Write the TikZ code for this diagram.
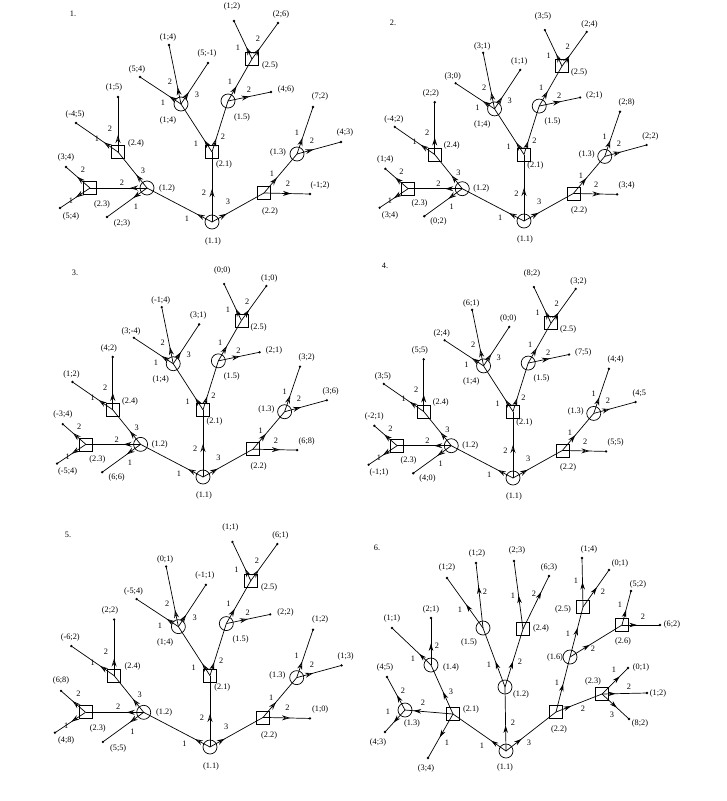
\documentclass[tikz,border=0pt]{standalone}
\usepackage{fontspec}
\setmainfont{Liberation Serif}
\usetikzlibrary{arrows.meta,decorations.markings}

\tikzset{
  pone/.style={circle,draw,minimum size=14pt,inner sep=0pt},
  ptwo/.style={rectangle,draw,minimum size=13pt,inner sep=0pt},
  leaf/.style={circle,fill,minimum size=2.6pt,inner sep=0pt},
  txt/.style={font=\fontsize{8.3}{9}\selectfont,inner sep=0pt},
  mv/.style={postaction={decorate},decoration={markings,
    mark=at position #1 with {\arrow{Stealth[open,length=8pt,width=5pt]}}}},
  mv/.default=17pt,
  mvf/.style={postaction={decorate},decoration={markings,
    mark=at position #1 with {\arrow{Stealth[length=7.5pt,width=4.5pt]}}}},
}

% tree of games 1-5: #1 prefix, #2 the 14 payoffs
\newcommand\gtree[2]{%
  \node[pone] (#1-11) at (0,0) {};
  \node[pone] (#1-12) at (-65,-34) {};
  \node[ptwo] (#1-23) at (-122,-34) {};
  \node[ptwo] (#1-24) at (-94,-70) {};
  \node[ptwo] (#1-21) at (0,-70) {};
  \node[pone] (#1-14) at (-31,-118) {};
  \node[pone] (#1-15) at (16,-121) {};
  \node[ptwo] (#1-25) at (40,-163) {};
  \node[ptwo] (#1-22) at (52,-29) {};
  \node[pone] (#1-13) at (85,-68) {};
  \node[txt] at (1,19) {(1.1)};
  \node[txt] at (-45,-34) {(1.2)};
  \node[txt] at (-110,-18) {(2.3)};
  \node[txt] at (-76,-79) {(2.4)};
  \node[txt] at (12,-58) {(2.1)};
  \node[txt] at (-44,-102) {(1;4)};
  \node[txt] at (30,-105) {(1.5)};
  \node[txt] at (58,-156) {(2.5)};
  \node[txt] at (58,-11) {(2.2)};
  \node[txt] at (66,-70) {(1.3)};
  % end points
  \foreach \i/\lx/\ly/\tx/\ty in {1/-146/-55/-146/-65, 2/-152/-14/-141/-6,
      3/-105/-5/-90/1, 4/-136/-99/-137/-107, 5/-94/-125/-98/-134,
      6/-72/-145/-75/-152, 7/-43/-177/-44/-184, 8/-4/-159/-5/-168,
      9/22/-201/20/-215, 10/66/-199/69/-207, 11/59/-130/74/-132,
      12/101/-115/108/-125, 13/129/-80/133/-89, 14/98/-28/108/-37}{
    \node[leaf] (#1-l\i) at (\lx,\ly) {};
    \coordinate (#1-t\i) at (\tx,\ty);
  }
  \foreach \pay [count=\i] in {#2} \node[txt] at (#1-t\i) {\pay};
  % moves
  \draw[mv] (#1-11.center) -- (#1-12.center) node[txt] at (-25,-3) {1};
  \draw[mv=33pt] (#1-11.center) -- (#1-21.center) node[txt] at (-8,-29) {2};
  \draw[mv] (#1-11.center) -- (#1-22.center) node[txt] at (16,-20) {3};
  \draw[mv] (#1-12.center) -- (#1-23.center) node[txt] at (-90,-39) {2};
  \draw[mv] (#1-12.center) -- (#1-l3.center) node[txt] at (-76,-15) {1};
  \draw[mv] (#1-12.center) -- (#1-24.center) node[txt] at (-69,-51) {3};
  \draw[mv] (#1-23.center) -- (#1-l1.center) node[txt] at (-129,-52) {2};
  \draw[mv] (#1-23.center) -- (#1-l2.center) node[txt] at (-141,-21) {1};
  \draw[mv] (#1-24.center) -- (#1-l4.center) node[txt] at (-115,-83) {1};
  \draw[mv] (#1-24.center) -- (#1-l5.center) node[txt] at (-102,-93) {2};
  \draw[mv=14pt] (#1-21.center) -- (#1-14.center) node[txt] at (-16,-78) {1};
  \draw[mv=14pt] (#1-21.center) -- (#1-15.center) node[txt] at (11,-85) {2};
  \draw[mv=14pt] (#1-14.center) -- (#1-l6.center) node[txt] at (-49,-119) {1};
  \draw[mv] (#1-14.center) -- (#1-l7.center) node[txt] at (-42,-140) {2};
  \draw[mv=14pt] (#1-14.center) -- (#1-l8.center) node[txt] at (-15,-127) {3};
  \draw[mv] (#1-15.center) -- (#1-25.center) node[txt] at (18,-140) {1};
  \draw[mv=22pt] (#1-15.center) -- (#1-l11.center) node[txt] at (37,-132) {2};
  \draw[mv=13pt] (#1-25.center) -- (#1-l9.center) node[txt] at (26,-174) {1};
  \draw[mv=13pt] (#1-25.center) -- (#1-l10.center) node[txt] at (46,-183) {2};
  \draw[mv=20pt] (#1-22.center) -- (#1-13.center) node[txt] at (60,-48) {1};
  \draw[mv=27pt] (#1-22.center) -- (#1-l14.center) node[txt] at (76,-38) {2};
  \draw[mv] (#1-13.center) -- (#1-l12.center) node[txt] at (85,-89) {1};
  \draw[mv] (#1-13.center) -- (#1-l13.center) node[txt] at (100,-81) {2};
}

\begin{document}
\begin{tikzpicture}[x=1pt,y=-1pt,line width=0.7pt]
  \useasboundingbox (0,0) rectangle (726,801);

  \node[txt] (N1) at (73,14) {1.};
  \node[txt] (N2) at (393,23) {2.};
  \node[txt] (N3) at (75,273) {3.};
  \node[txt] (N4) at (385,266) {4.};
  \node[txt] (N5) at (68,535) {5.};
  \node[txt] (N6) at (377,548) {6.};

  \begin{scope}[shift={(212,222)}]
    \gtree{a}{(3;4),(5;4),(2;3),(-4;5),(1;5),(5;4),(1;4),(5;-1),(1;2),(2;6),(4;6),(7;2),(4;3),(-1;2)}
  \end{scope}
  \begin{scope}[shift={(524,221)},scale=0.95]
    \gtree{b}{(1;4),(3;4),(0;2),(-4;2),(2;2),(3;0),(3;1),(1;1),(3;5),(2;4),(2;1),(2;8),(2;2),(3;4)}
  \end{scope}
  \begin{scope}[shift={(203,477)},scale=0.96]
    \gtree{c}{(-3;4),(-5;4),(6;6),(1;2),(4;2),(3;-4),(-1;4),(3;1),(0;0),(1;0),(2;1),(3;2),(3;6),(6;8)}
  \end{scope}
  \begin{scope}[shift={(513,478)},scale=0.95]
    \gtree{d}{(-2;1),(-1;1),(4;0),(3;5),(5;5),(2;4),(6;1),(0;0),(8;2),(3;2),(7;5),(4;4),{(4;5},(5;5)}
  \end{scope}
  \begin{scope}[shift={(210,747)},scale=1.02]
    \gtree{e}{(6;8),(4;8),(5;5),(-6;2),(2;2),(-5;4),(0;1),(-1;1),(1;1),(6;1),(2;2),(1;2),(1;3),(1;0)}
  \end{scope}

  % game 6
  \node[pone] (f-11) at (506,751) {};
  \node[ptwo] (f-21) at (453,714) {};
  \node[pone] (f-12) at (505,687) {};
  \node[ptwo] (f-22) at (556,712) {};
  \node[pone] (f-13) at (405,710) {};
  \node[pone] (f-14) at (431,665) {};
  \node[pone] (f-15) at (483,628) {};
  \node[ptwo] (f-24) at (523,629) {};
  \node[pone] (f-16) at (570,657) {};
  \node[ptwo] (f-25) at (583,607) {};
  \node[ptwo] (f-26) at (622,625) {};
  \node[ptwo] (f-23) at (602,694) {};
  \node[txt] at (505,767) {(1.1)};
  \node[txt] at (471,709) {(2.1)};
  \node[txt] at (521,694) {(1.2)};
  \node[txt] at (559,729) {(2.2)};
  \node[txt] at (412,723) {(1.3)};
  \node[txt] at (451,667) {(1.4)};
  \node[txt] at (469,642) {(1.5)};
  \node[txt] at (541,628) {(2.4)};
  \node[txt] at (555,657) {(1.6)};
  \node[txt] at (563,609) {(2.5)};
  \node[txt] at (623,641) {(2.6)};
  \node[txt] at (593,681) {(2.3)};
  \foreach \i/\lx/\ly/\tx/\ty/\pay in {1/387/677/385/667/(4;5), 2/385/732/378/742/(4;3),
      3/428/758/426/768/(3;4), 4/392/628/392/618/(1;1), 5/431/618/431/609/(2;1),
      6/447/578/447/567/(1;2), 7/476/563/477/553/(1;2), 8/514/561/517/550/(2;3),
      9/549/576/549/567/(6;3), 10/582/558/589/549/(1;4), 11/609/570/620/563/(0;1),
      12/631/591/638/584/(5;2), 13/660/625/672/624/(6;2), 14/628/668/641/667/(0;1),
      15/647/693/658/693/(1;2), 16/629/719/640/723/(8;2)}{
    \node[leaf] (f-l\i) at (\lx,\ly) {};
    \node[txt] at (\tx,\ty) {\pay};
  }
  \draw[mvf=.28] (f-11.center) -- (f-21.center) node[txt] at (482,746) {1};
  \draw[mvf=.4]  (f-11.center) -- (f-12.center) node[txt] at (513,723) {2};
  \draw[mvf=.31] (f-11.center) -- (f-22.center) node[txt] at (529,743) {3};
  \draw[mvf=.82] (f-21.center) -- (f-13.center) node[txt] at (423,703) {2};
  \draw[mvf=.53] (f-21.center) -- (f-l3.center) node[txt] at (447,743) {1};
  \draw[mvf=.45] (f-21.center) -- (f-14.center) node[txt] at (451,692) {3};
  \draw[mvf=.45] (f-13.center) -- (f-l1.center) node[txt] at (403,691) {2};
  \draw[mvf=.57] (f-13.center) -- (f-l2.center) node[txt] at (388,712) {1};
  \draw[mvf=.3]  (f-14.center) -- (f-l4.center) node[txt] at (413,659) {1};
  \draw[mvf=.46] (f-14.center) -- (f-l5.center) node[txt] at (437,646) {2};
  \draw[mvf=.43] (f-12.center) -- (f-15.center) node[txt] at (489,665) {1};
  \draw[mvf=.44] (f-12.center) -- (f-24.center) node[txt] at (520,662) {2};
  \draw[mvf=.47] (f-15.center) -- (f-l6.center) node[txt] at (460,610) {1};
  \draw[mvf=.64] (f-15.center) -- (f-l7.center) node[txt] at (485,592) {2};
  \draw[mvf=.49] (f-24.center) -- (f-l8.center) node[txt] at (513,596) {1};
  \draw[mvf=.7]  (f-24.center) -- (f-l9.center) node[txt] at (534,594) {2};
  \draw[mvf=.51] (f-22.center) -- (f-16.center) node[txt] at (557,683) {1};
  \draw[mvf=.33] (f-22.center) -- (f-23.center) node[txt] at (583,709) {2};
  \draw[mvf=.58] (f-16.center) -- (f-25.center) node[txt] at (568,634) {1};
  \draw[mvf=.38] (f-16.center) -- (f-26.center) node[txt] at (593,649) {2};
  \draw[mvf=.51] (f-25.center) -- (f-l10.center) node[txt] at (576,581) {1};
  \draw[mvf=.53] (f-25.center) -- (f-l11.center) node[txt] at (603,592) {2};
  \draw[mvf=.44] (f-26.center) -- (f-l12.center) node[txt] at (620,605) {1};
  \draw[mvf=.39] (f-26.center) -- (f-l13.center) node[txt] at (643,617) {2};
  \draw[mvf=.68] (f-23.center) -- (f-l14.center) node[txt] at (614,670) {1};
  \draw[mvf=.3]  (f-23.center) -- (f-l15.center) node[txt] at (629,687) {2};
  \draw[mvf=.55] (f-23.center) -- (f-l16.center) node[txt] at (612,715) {3};
\end{tikzpicture}
\end{document}
